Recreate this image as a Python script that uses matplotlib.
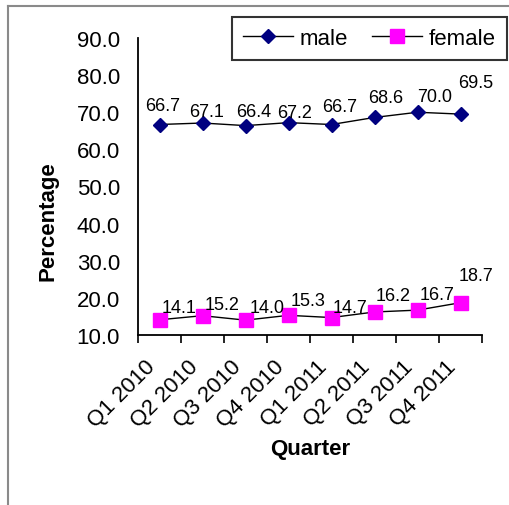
import matplotlib
matplotlib.use("Agg")
import matplotlib.pyplot as plt

plt.rcParams['font.family'] = ['Liberation Sans', 'DejaVu Sans']

quarters = ["Q1 2010", "Q2 2010", "Q3 2010", "Q4 2010",
            "Q1 2011", "Q2 2011", "Q3 2011", "Q4 2011"]
male = [66.7, 67.1, 66.4, 67.2, 66.7, 68.6, 70.0, 69.5]
female = [14.1, 15.2, 14.0, 15.3, 14.7, 16.2, 16.7, 18.7]
yticks = [10, 20, 30, 40, 50, 60, 70, 80, 90]

# label offsets (pixels, centre of digits relative to marker)
male_off = [(3, 21), (4.5, 13), (8.5, 15.6), (6.5, 11.6), (8.5, 19.5), (11, 21.4), (17, 17.8), (15, 33.6)]
female_off = [(19.5, 14.3), (20, 12.7), (21.5, 14.7), (20, 16.3), (18.5, 12.1), (19, 18), (20, 17.1), (15.5, 29.2)]

W, H = 509, 506
fig = plt.figure(figsize=(W / 100, H / 100), dpi=100)
fig.patch.set_facecolor('white')

# outer frame
fig.add_artist(plt.Line2D([7.5 / W, 7.5 / W], [0, 1 - 6.5 / H], transform=fig.transFigure,
                          color='#8a8a8a', lw=1.5))
fig.add_artist(plt.Line2D([7.5 / W, 1], [1 - 6.5 / H, 1 - 6.5 / H], transform=fig.transFigure,
                          color='#8a8a8a', lw=1.5))

ax = fig.add_axes([138 / W, 1 - 336 / H, 344 / W, 297 / H])
x = list(range(len(quarters)))
ax.plot(x, male, color='black', lw=1.0, marker='D', ms=7.2,
        markerfacecolor='#000080', markeredgecolor='#000080', label='male', zorder=3)
ax.plot(x, female, color='black', lw=1.0, marker='s', ms=10.5,
        markerfacecolor='#FF00FF', markeredgecolor='#FF00FF', label='female', zorder=3)

for xi, v, (dx, dy) in zip(x, male, male_off):
    ax.annotate(f"{v:.1f}", (xi, v), xytext=(dx, dy - 6.4), textcoords='offset pixels',
                ha='center', va='baseline', fontsize=13)
for xi, v, (dx, dy) in zip(x, female, female_off):
    ax.annotate(f"{v:.1f}", (xi, v), xytext=(dx, dy - 6.4), textcoords='offset pixels',
                ha='center', va='baseline', fontsize=13)

ax.set_xlim(-0.5, len(quarters) - 0.5)
ax.set_ylim(10, 90)
ax.set_yticks(yticks)
ax.set_yticklabels([f"{t:.1f}" for t in yticks], fontsize=16)
ax.tick_params(axis='y', length=0, pad=13)

ax.set_xticks([i - 0.5 for i in range(len(quarters) + 1)])
ax.set_xticklabels([])
ax.set_xticks(x, minor=True)
ax.set_xticklabels(quarters, minor=True, rotation=45, ha='right', va='top', fontsize=16)
ax.tick_params(axis='x', which='major', length=6, width=1.2, direction='out')
ax.tick_params(axis='x', which='minor', length=0, pad=15)

for s in ['top', 'right']:
    ax.spines[s].set_visible(False)
for s in ['left', 'bottom']:
    ax.spines[s].set_linewidth(1.3)

fig.text(48 / W, 1 - 221 / H, 'Percentage', rotation=90, ha='center', va='center',
         fontsize=16, fontweight='bold')
fig.text(310 / W, 1 - 450 / H, 'Quarter', ha='center', va='center',
         fontsize=16, fontweight='bold')

leg = fig.legend(loc='upper right', bbox_to_anchor=(507 / W, 1 - 18 / H), ncol=2,
                 fontsize=16, frameon=True, fancybox=False, borderaxespad=0,
                 handlelength=2.25, handletextpad=0.3, columnspacing=1.1,
                 borderpad=0.5)
leg.get_frame().set_edgecolor('black')
leg.get_frame().set_linewidth(1.5)

fig.savefig('out.png', dpi=100)
